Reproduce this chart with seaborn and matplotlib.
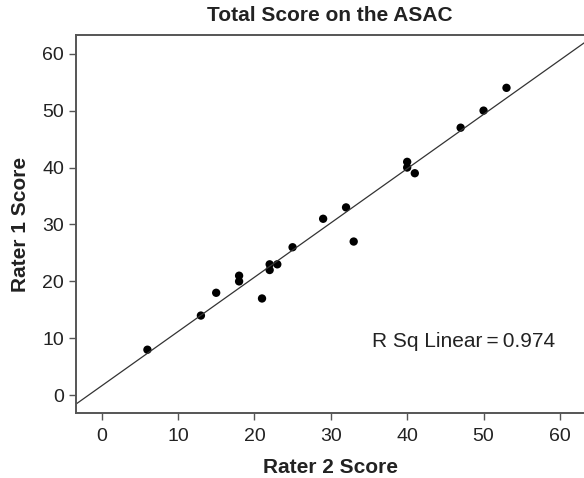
import numpy as np
import pandas as pd
import seaborn as sns
import matplotlib.pyplot as plt

# scores
rater2 = [6, 13, 15, 18, 18, 21, 22, 22, 23, 25, 29, 32, 33, 40, 40, 41, 47, 50, 53]
rater1 = [8, 14, 18, 21, 20, 17, 23, 22, 23, 26, 31, 33, 27, 41, 40, 39, 47, 50, 54]
ticks = [0, 10, 20, 30, 40, 50, 60]
r_sq_label = "R Sq Linear\u2009=\u20090.974"

df = pd.DataFrame({"Rater 2 Score": rater2, "Rater 1 Score": rater1})

sns.set_style("ticks")
plt.rcParams["font.family"] = ["Liberation Sans", "DejaVu Sans"]

fig = plt.figure(figsize=(5.84, 4.78), dpi=100)
ax = fig.add_axes([0.130, 0.135, 0.872, 0.792])
ax.set_xlim(-3.36, 63.3)
ax.set_ylim(-3.2, 63.3)

sns.regplot(data=df, x="Rater 2 Score", y="Rater 1 Score", ax=ax, ci=None, truncate=False,
            scatter_kws={"s": 36, "color": "black", "edgecolor": "none", "alpha": 1},
            line_kws={"color": "#333333", "linewidth": 0.9})

ax.set_xlim(-3.36, 63.3)
ax.set_ylim(-3.2, 63.3)
ax.set_xticks(ticks)
ax.set_yticks(ticks)
ax.tick_params(labelsize=14, length=5, width=1.0, pad=3.5, color="#555555", labelcolor="#222222")
ax.tick_params(axis="x", pad=5.5)
for s in ax.spines.values():
    s.set_color("#555555")
    s.set_linewidth(1.4)

ax.set_xlabel("Rater 2 Score", fontsize=15, fontweight="bold", color="#222222", labelpad=9)
ax.set_ylabel("Rater 1 Score", fontsize=15, fontweight="bold", color="#222222", labelpad=9)
ax.text(35.4, 8.5, r_sq_label, fontsize=15, color="#222222", va="baseline", ha="left")

fig.text(0.565, 0.956, "Total Score on the ASAC", ha="center", va="baseline",
         fontsize=15, fontweight="bold", color="#222222")

fig.savefig("out.png", dpi=100)
